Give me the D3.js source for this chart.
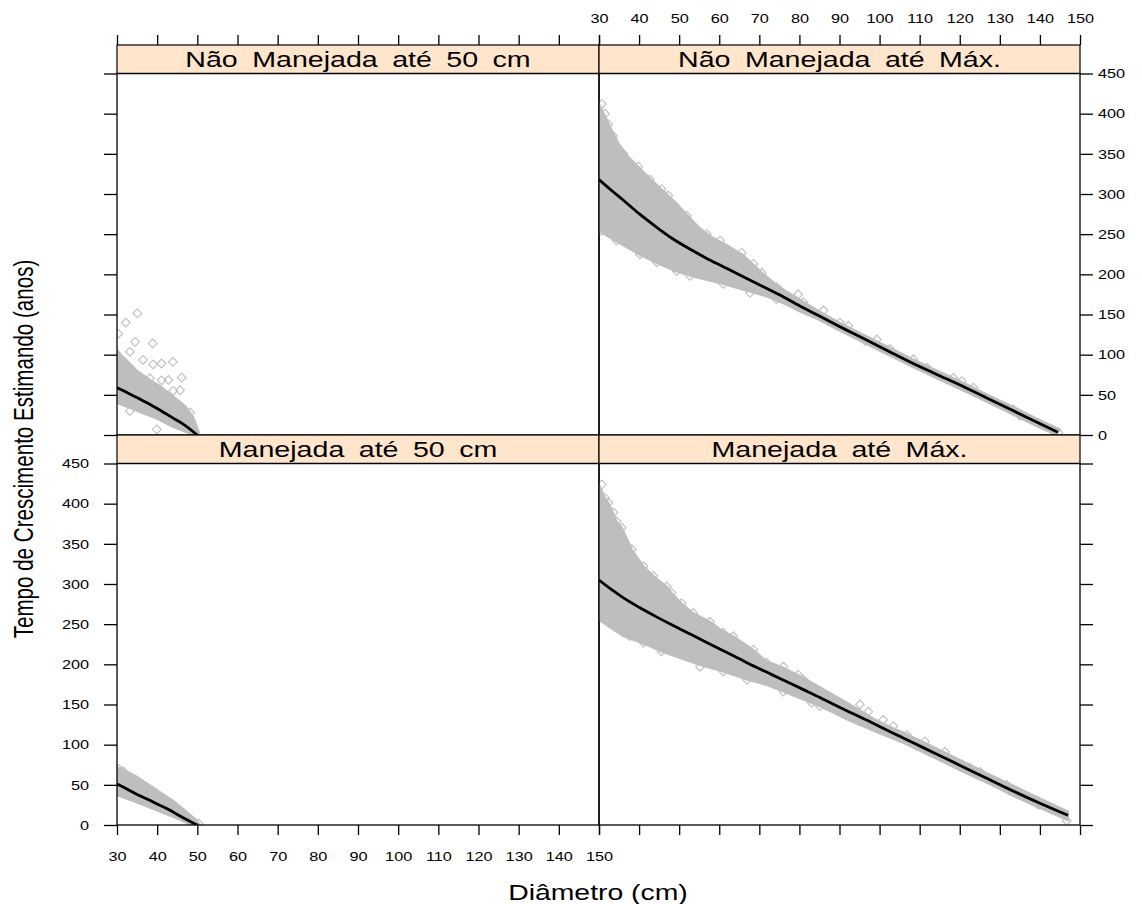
<!DOCTYPE html>
<html>
<head>
<meta charset="utf-8">
<script src="https://cdn.jsdelivr.net/npm/d3@7"></script>
<style>
  body { margin: 0; background: #fff; }
  svg text { font-family: "Liberation Sans", Arial, sans-serif; fill: #000; }
</style>
</head>
<body>
<div id="viz"></div>
<script>
// panel titles (lattice strips)
var panelNames = ['Não Manejada até 50 cm', 'Não Manejada até Máx.',
                  'Manejada até 50 cm', 'Manejada até Máx.'];

var xTicks = d3.range(30, 151, 10),
    yTicks = d3.range(0, 451, 50);

// [diâmetro, anos]
// --- Não Manejada até 50 cm
var nm50Line = [[30,59],[32,54],[34,49],[36,44],[38,38.5],[40,33],[42,27],[44,21],[46,15],[48,8],[50,0]];
var nm50Hi = [[30,106],[31,100],[33,90],[35,80],[37,73],[39,66],[41,60],[43,52],[45,44],[47,36],[49,22],[50.5,2]];
var nm50Lo = [[30,40],[33,34],[36,28],[40,20],[44,10],[48,2],[49.5,0]];
var nm50Pts = [[35.05,151.7],[32.2,140],[30.3,126],[34.5,116],[38.9,114],[33.2,103.5],[36.5,93.5],[39,88],
  [41.1,89],[43.9,91],[46.1,71.5],[38.2,70.6],[41.1,68],[42.8,68.5],[45.7,55.7],[44,55],[33.2,30],[39.9,7],[48.2,28]];

// --- Não Manejada até Máx.
var nmMaxLine = [[30,318],[33,305],[36,292.5],[40,275.5],[44,260],[48,245.5],[53,230.5],[57,219.5],[61,209.5],
  [65,199.5],[69,189.5],[75,174.5],[80,161],[85,148],[90,135],[96,120],[102,105],[108,90],[114,76],
  [121,60],[127,45.5],[133,31],[139,16.5],[144.5,3.5]];
var nmMaxHi = [[30,412],[31,402],[32,392],[33.5,376],[35,362],[37,348],[40,333],[43,318],[46,304],[49,290],
  [52,274],[55,258],[58,247],[62,236],[66,224],[70,205],[75,184],[80,169],[85,154],[90,140],[96,125],
  [102,110],[108,95],[114,81],[121,65],[127,50],[133,36],[139,21],[145,7]];
var nmMaxLo = [[30,254],[34,242],[40,225],[44,215],[49,204],[53,198],[61,188],[68,178],[72,172],[76,164],
  [80,154],[85,143],[90,130],[96,115],[102,100],[108,85],[114,71],[121,55],[127,40.5],[133,26],[139,11.5],[144,0]];
var nmMaxPts = [[30.7,412],[31.5,400],[32.3,387],[33.6,372],[36.1,350],[39.8,334],[42.7,318],[45.6,306],
  [47.3,298],[51.9,273],[56.9,250],[60.2,242],[65.6,227],[68.5,213],[70.6,202],[74.3,184],
  [30.7,254],[34.4,242],[40.2,225],[44.4,215],[49.4,204],[52.7,198],[61,188],[67.7,177],[74.3,169],
  [75.2,180],[79.7,175],[81,165],[86,155],[90.1,140],[92.2,136],[96.4,117],[99.3,119],[102.6,107],
  [108.4,94],[111.8,84],[118.4,71],[120.5,67],[123.4,59],[128.4,42],[133.4,32],[135,24],[139.6,15],[144.6,3]];

// --- Manejada até 50 cm
var m50Line = [[30,51],[32,46],[35,38],[38,31],[40,26],[43,19],[45,13],[48,5],[50,0]];
var m50Hi = [[30,72],[32,68],[35,60],[38,50],[41,40],[44,30],[47,18],[50,5],[50.6,0]];
var m50Lo = [[30,37],[35,28],[40,18],[45,8],[48,1],[49,0]];
var m50Pts = [[30.4,70],[31.5,67],[50.3,2]];

// --- Manejada até Máx.
var mMaxLine = [[30,305],[33,293.5],[36,283],[40,271],[44,260],[48,249.5],[53,237],[57,227],[61,217],
  [65,207],[69,197],[73,187.5],[77,178],[81,168.5],[85,159],[89,149],[93,139.5],[97,130],[101,120],
  [106,108],[111,96],[116,84],[121,72],[127,57.5],[133,43],[140,27],[147,12]];
var mMaxHi = [[30,424],[31.5,407],[32.3,401],[33.6,388],[34.4,378],[35.7,370],[38.2,343],[41.1,322],
  [43.6,310],[46.9,297],[48.1,289],[50.6,276],[53.5,264],[57.7,253],[61,241],[63.5,235],[68.5,218],
  [71.8,204],[76,196],[80,186],[85,172],[92,152],[100,128],[106,115],[111,103],[116,91],[121,79],
  [127,64],[133,50],[140,33],[147,17]];
var mMaxLo = [[30,255],[36,235],[41,226],[45.6,216],[55.2,199],[61,191],[66.9,181],[72,174],[76,166],
  [80,158],[85,148],[88,141],[92,131],[100,114],[106,102],[111,90],[116,78],[121,66],[127,52],[133,37],
  [140,21],[147,6]];
var mMaxPts = [[30.7,424],[31.5,407],[32.3,401],[33.6,389],[34.4,378],[35.7,370],[38.2,343],[41.1,322],
  [43.6,310],[46.9,297],[48.1,289],[50.6,276],[53.5,264],[57.7,253],[61,239],[63.5,235],[68.5,218],
  [71.8,202],[76,197],[37.7,235],[41.1,227],[45.6,216],[55.2,197],[61,191],[66.9,181],
  [79.7,187],[81,181],[76,166],[83.1,152],[85.1,148],[95.1,150],[97.2,141],[100.9,131],[103.4,123],
  [106.8,112],[111.3,104],[109.3,98],[116.3,91],[118.4,77],[122.6,71],[125.1,66],[131.7,50],
  [135.5,37],[139.6,25],[146.7,5.4]];

var width = 1142, height = 904;
var left = 117, mid = 599, right = 1080;
var stripTop = 45, stripH = 28.5, panelH = 361.5;
var row0 = stripTop + stripH,           // 73.5
    row1 = row0 + panelH + stripH;      // bottom row panel top

var gray = '#bebebe';
var stretch = 1.25;   // the fonts in the picture are horizontally wide

var svg = d3.select('#viz').append('svg')
  .attr('width', width)
  .attr('height', height);

var panels = [
  {name: panelNames[0], col: 0, row: 0, line: nm50Line, hi: nm50Hi, lo: nm50Lo, pts: nm50Pts},
  {name: panelNames[1], col: 1, row: 0, line: nmMaxLine, hi: nmMaxHi, lo: nmMaxLo, pts: nmMaxPts},
  {name: panelNames[2], col: 0, row: 1, line: m50Line, hi: m50Hi, lo: m50Lo, pts: m50Pts},
  {name: panelNames[3], col: 1, row: 1, line: mMaxLine, hi: mMaxHi, lo: mMaxLo, pts: mMaxPts}
];

var diamond = d3.symbol().type(d3.symbolSquare).size(38);

panels.forEach(function(p, i) {
  var x0 = p.col === 0 ? left : mid,
      x1 = p.col === 0 ? mid : right,
      top = p.row === 0 ? row0 : row1,
      bottom = top + panelH;

  var xScale = d3.scaleLinear().domain([30, 150]).range([x0, x1]);
  var yScale = d3.scaleLinear().domain([0, 450]).range([bottom, top]);

  svg.append('clipPath').attr('id', 'clip' + i)
    .append('rect')
    .attr('x', x0).attr('y', top)
    .attr('width', x1 - x0).attr('height', panelH);

  var g = svg.append('g').attr('clip-path', 'url(#clip' + i + ')');

  // dense cloud of points, drawn as its envelope
  var band = p.hi.concat(p.lo.slice().reverse());
  g.append('path')
    .attr('d', d3.line()
      .x(function(d) { return xScale(d[0]); })
      .y(function(d) { return yScale(d[1]); })
      .curve(d3.curveLinearClosed)(band))
    .attr('fill', gray)
    .attr('stroke', gray)
    .attr('stroke-width', 2);

  // loose points (open diamonds)
  g.selectAll('.pt')
    .data(p.pts)
    .enter().append('path')
    .attr('d', diamond)
    .attr('transform', function(d) {
      return 'translate(' + xScale(d[0]) + ',' + yScale(d[1]) + ') rotate(45)';
    })
    .attr('fill', 'none')
    .attr('stroke', gray)
    .attr('stroke-width', 1.1);

  // fitted line
  g.append('path')
    .attr('d', d3.line()
      .x(function(d) { return xScale(d[0]); })
      .y(function(d) { return yScale(d[1]); })
      .curve(d3.curveMonotoneX)(p.line))
    .attr('fill', 'none')
    .attr('stroke', '#000')
    .attr('stroke-width', 2.8);

  // strip
  var sTop = top - stripH;
  svg.append('rect')
    .attr('x', x0).attr('y', sTop)
    .attr('width', x1 - x0).attr('height', stripH)
    .attr('fill', '#ffe5cc')
    .attr('stroke', '#000')
    .attr('stroke-width', 1.2);

  svg.append('g')
    .attr('transform', 'translate(' + ((x0 + x1) / 2) + ',' + (sTop + 22) + ') scale(1.3,1)')
    .append('text')
    .attr('text-anchor', 'middle')
    .attr('font-size', 22)
    .attr('word-spacing', 5)
    .text(p.name);

  // panel border
  svg.append('rect')
    .attr('x', x0).attr('y', top)
    .attr('width', x1 - x0).attr('height', panelH)
    .attr('fill', 'none')
    .attr('stroke', '#000')
    .attr('stroke-width', 1.3);

  // y axis: left side on first column, right side on second
  var yAxis = (p.col === 0 ? d3.axisLeft(yScale) : d3.axisRight(yScale))
    .tickValues(yTicks)
    .tickSize(13)
    .tickSizeOuter(0);
  var showY = (p.col === 0 && p.row === 1) || (p.col === 1 && p.row === 0);
  if (!showY) yAxis.tickFormat('');
  var yg = svg.append('g')
    .attr('transform', 'translate(' + (p.col === 0 ? x0 : x1) + ',0)')
    .call(yAxis);
  yg.select('.domain').remove();
  yg.selectAll('line').attr('stroke-width', 1.3);
  yg.selectAll('text')
    .attr('font-size', 13)
    .attr('x', (p.col === 0 ? -28 : 18) / stretch)
    .attr('transform', 'scale(' + stretch + ',1)');

  // x axis: top row gets top ticks, bottom row bottom ticks
  var xAxis = (p.row === 0 ? d3.axisTop(xScale) : d3.axisBottom(xScale))
    .tickValues(xTicks)
    .tickSize(10)
    .tickSizeOuter(0);
  var showX = (p.row === 0 && p.col === 1) || (p.row === 1 && p.col === 0);
  if (!showX) xAxis.tickFormat('');
  var xg = svg.append('g')
    .attr('transform', 'translate(0,' + (p.row === 0 ? sTop : bottom) + ')')
    .call(xAxis);
  xg.select('.domain').remove();
  xg.selectAll('line').attr('stroke-width', 1.3);
  xg.selectAll('text')
    .attr('font-size', 13)
    .attr('y', p.row === 0 ? -22 : 27)
    .attr('transform', 'scale(' + stretch + ',1)');
});

// axis titles
svg.append('g')
  .attr('transform', 'translate(598,900) scale(1.29,1)')
  .append('text')
  .attr('text-anchor', 'middle')
  .attr('font-size', 22)
  .text('Diâmetro (cm)');

svg.append('g')
  .attr('transform', 'translate(33,449) rotate(-90) scale(1,1.3)')
  .append('text')
  .attr('text-anchor', 'middle')
  .attr('font-size', 20.6)
  .text('Tempo de Crescimento Estimando (anos)');
</script>
</body>
</html>
